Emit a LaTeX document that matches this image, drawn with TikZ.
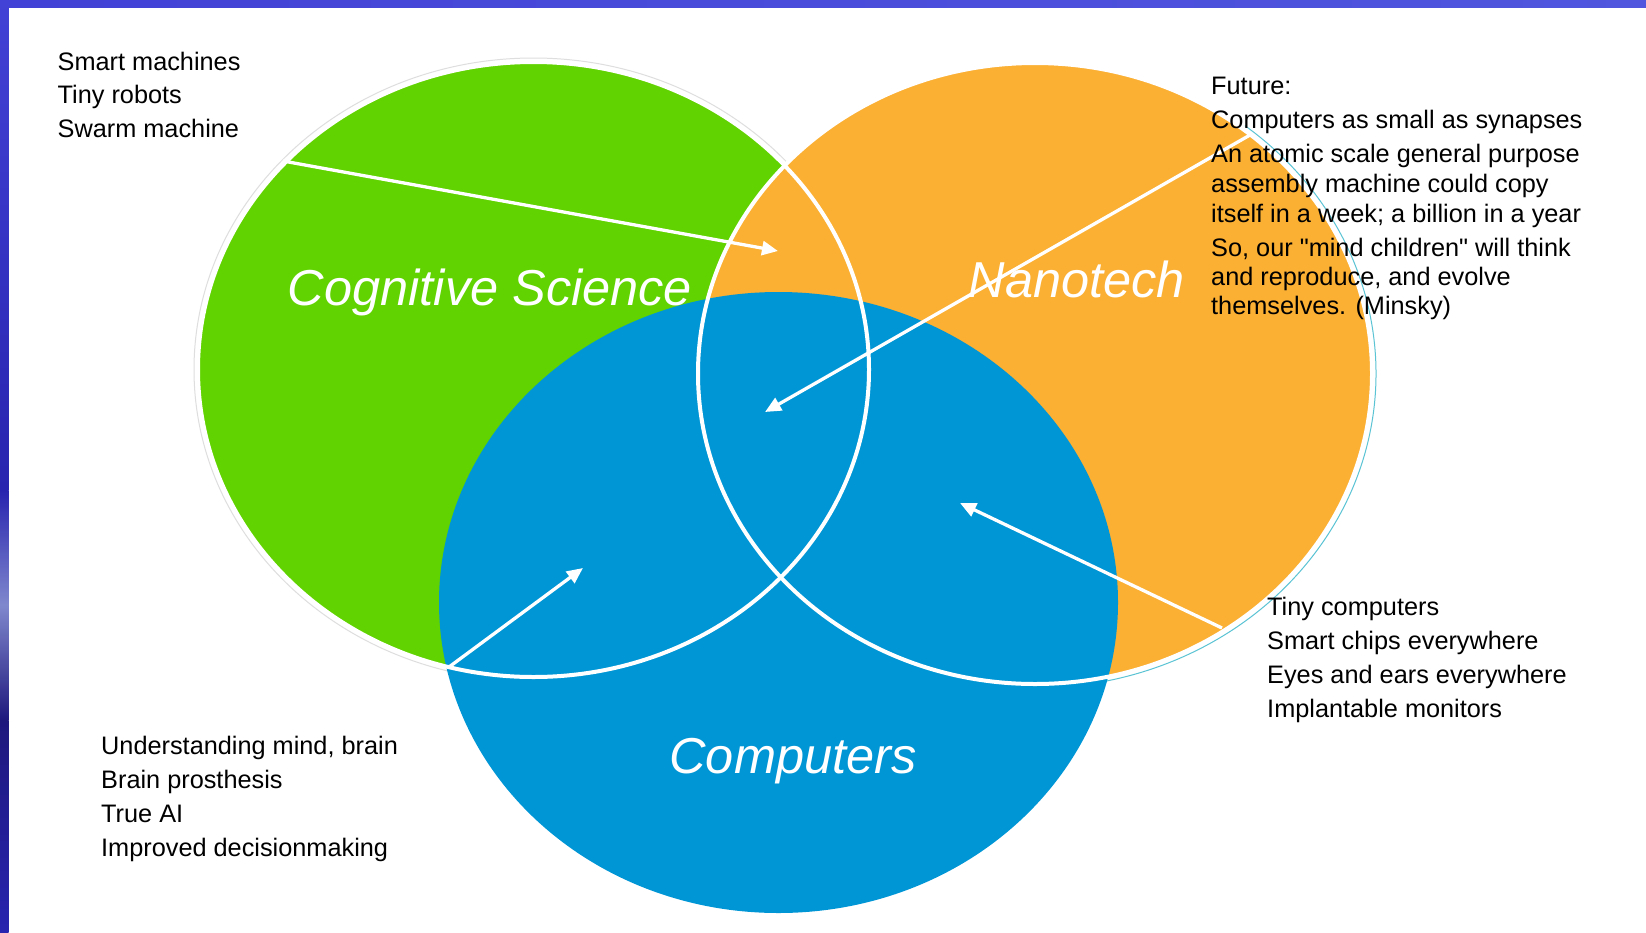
\documentclass[tikz,border=0pt]{standalone}
\usepackage{fontspec}
\setmainfont{Liberation Sans}
\usetikzlibrary{arrows.meta}
\newcommand{\sq}{\XeTeXglyph\XeTeXcharglyph"0022\relax}
\definecolor{cgreen}{RGB}{97,211,0}
\definecolor{corange}{RGB}{251,175,51}
\definecolor{cblue}{RGB}{0,150,214}
\definecolor{bandA}{RGB}{66,66,214}
\definecolor{bandB}{RGB}{80,86,222}
\definecolor{sideA}{RGB}{40,36,175}
\definecolor{sideB}{RGB}{128,136,205}
\definecolor{sideC}{RGB}{30,24,125}
\definecolor{cteal}{RGB}{90,195,212}
\definecolor{cgrey}{RGB}{222,222,222}
\begin{document}
\begin{tikzpicture}[x=1pt,y=-1pt,
  outl/.style={white, line width=4pt},
  arr/.style={white, line width=3.3pt, -{Triangle[length=16pt,width=14pt]}},
  txt/.style={anchor=base west, inner sep=0pt, font=\fontsize{25.3}{30}\selectfont, text=black},
  big/.style={anchor=base, inner sep=0pt, font=\fontsize{50.5}{60}\selectfont\itshape, text=white}]
\useasboundingbox (0,0) rectangle (1646,932);
\fill[white] (0,0) rectangle (1646,932);
% frame bands
\shade[left color=bandA, right color=bandB] (0,0) rectangle (1646,7);
\shade[top color=bandA, bottom color=sideA] (0,0) rectangle (8.5,490);
\shade[top color=sideA, bottom color=sideC, middle color=sideB] (0,490) rectangle (8.5,720);
\shade[top color=sideC, bottom color=sideA] (0,720) rectangle (8.5,932);
% centres
\coordinate (gC) at (533.5,369.5);
\coordinate (oC) at (1035,373.5);
\coordinate (bC) at (778.5,602.5);
% fills
\fill[cgreen] (gC) ellipse [x radius=335.5, y radius=307.5];
\draw[cgrey, line width=1pt] (gC) ellipse [x radius=339.5, y radius=311.5];
\fill[corange] (oC) ellipse [x radius=337, y radius=310.5];
\draw[cteal, line width=1pt] ([shift={(-52:341 and 314.5)}]oC) arc [start angle=-52, end angle=100, x radius=341, y radius=314.5];
\fill[cblue] (bC) ellipse [x radius=339.5, y radius=310.5];
% white outlines
\draw[outl] (gC) ellipse [x radius=335.5, y radius=307.5];
\draw[outl] (oC) ellipse [x radius=337, y radius=310.5];
% arrows
\coordinate (a1s) at (283,161);   \coordinate (a1e) at (778,251);
\coordinate (a2s) at (1250,135);  \coordinate (a2e) at (765,412);
\coordinate (a3s) at (1222,628);  \coordinate (a3e) at (960,503);
\coordinate (a4s) at (449,667);   \coordinate (a4e) at (583,568);
\draw[arr] (a1s) -- (a1e);
\draw[arr] (a2s) -- (a2e);
\draw[arr] (a3s) -- (a3e);
\draw[arr] (a4s) -- (a4e);
% big labels
\node[big] (lcog) at (490,305) {Cognitive Science};
\node[big] (lnano) at (1077,297) {Nanotech};
\node[big] (lcomp) at (793,773) {Computers};
% top-left text
\node[txt] (t1) at (57.5,70) {Smart machines};
\node[txt] (t2) at (57.5,103.5) {Tiny robots};
\node[txt] (t3) at (57.5,137) {Swarm machine};
% future text
\node[txt] (f1) at (1211,94) {Future:};
\node[txt] (f2) at (1211,128) {Computers as small as synapses};
\node[txt] (f3) at (1211,162) {An atomic scale general purpose};
\node[txt] (f4) at (1211,192) {assembly machine could copy};
\node[txt] (f5) at (1211,222) {itself in a week; a billion in a year};
\node[txt] (f6) at (1211,256) {So, our \sq mind children\sq{} will think};
\node[txt] (f7) at (1211,285) {and reproduce, and evolve};
\node[txt] (f8) at (1211,314) {themselves. (Minsky)};
% bottom-right text
\node[txt] (r1) at (1267,615) {Tiny computers};
\node[txt] (r2) at (1267,649) {Smart chips everywhere};
\node[txt] (r3) at (1267,683) {Eyes and ears everywhere};
\node[txt] (r4) at (1267,717) {Implantable monitors};
% bottom-left text
\node[txt] (b1) at (101,754) {Understanding mind, brain};
\node[txt] (b2) at (101,788) {Brain prosthesis};
\node[txt] (b3) at (101,822) {True AI};
\node[txt] (b4) at (101,856) {Improved decisionmaking};
\end{tikzpicture}
\end{document}
